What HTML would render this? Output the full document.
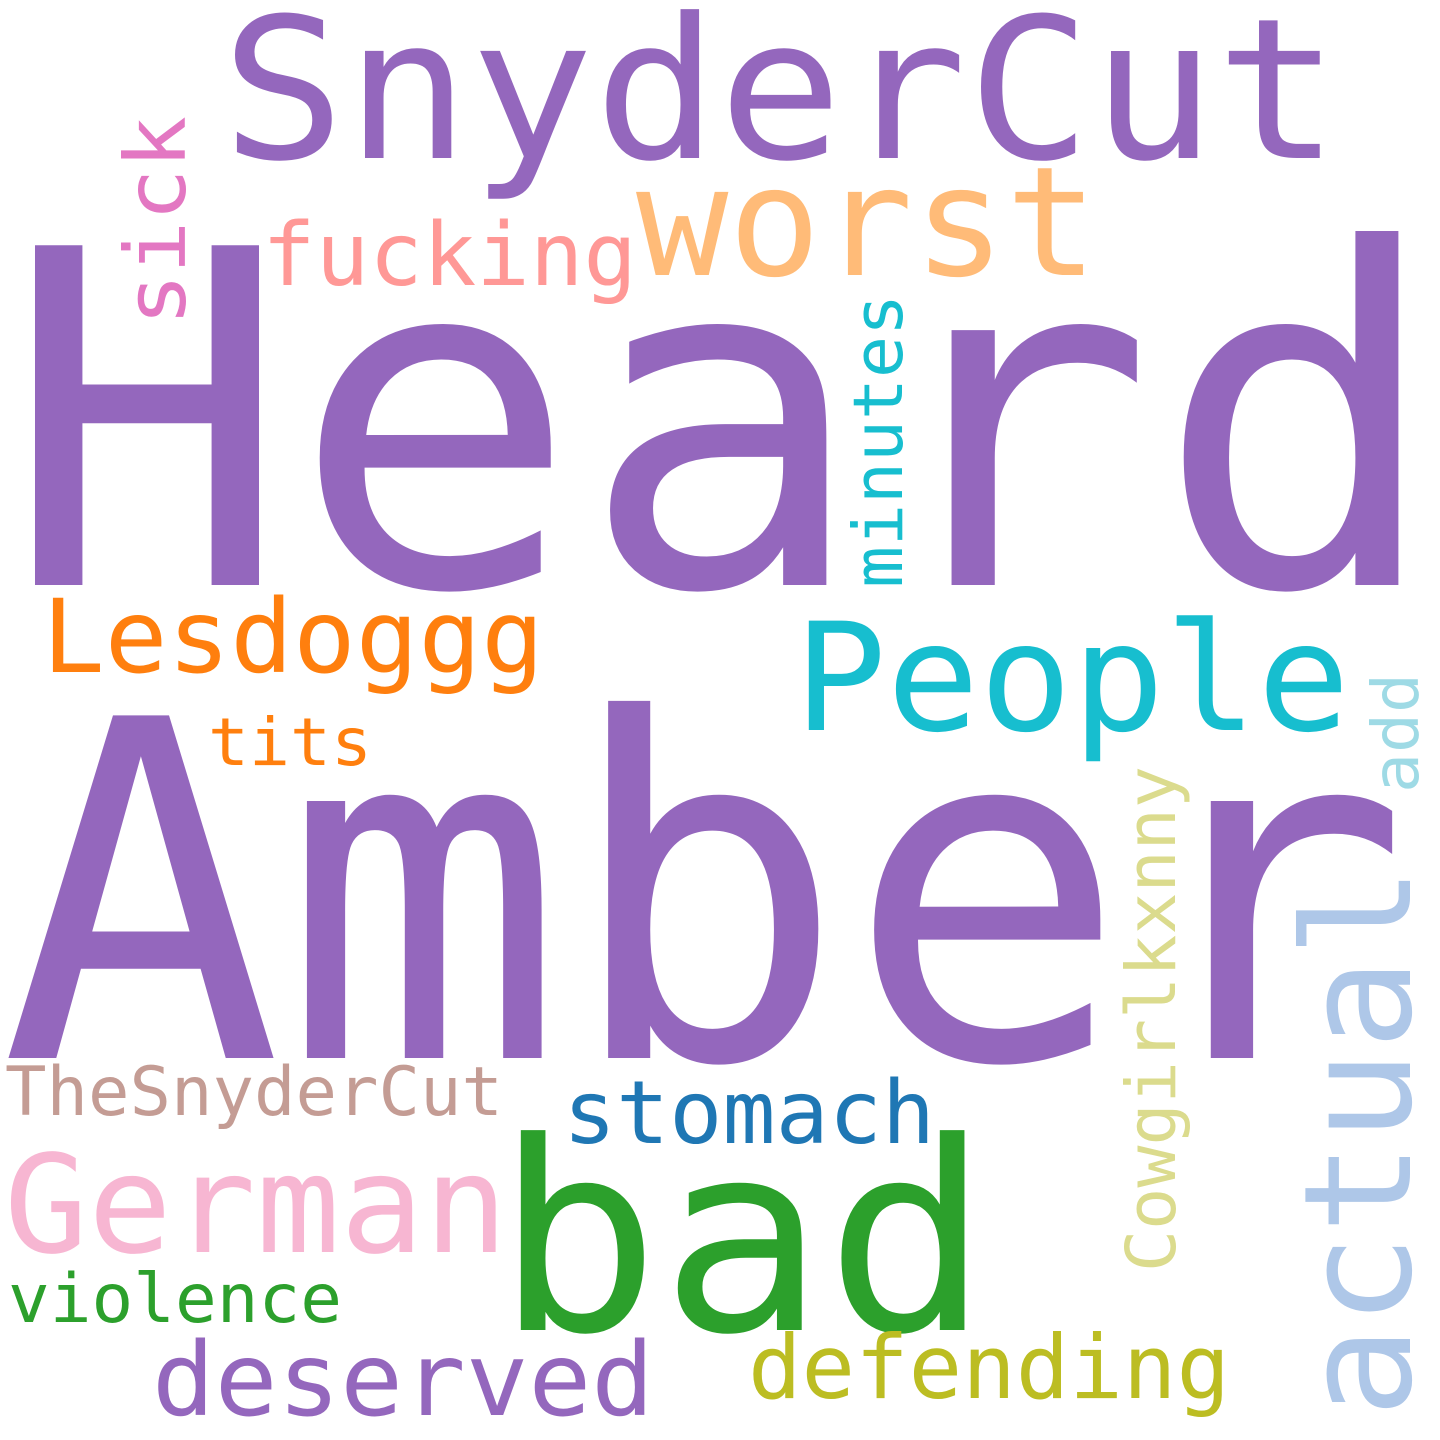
<!DOCTYPE html>
<html><head><meta charset="utf-8"><style>
html,body{margin:0;padding:0;background:#fff}
svg{display:block}
text{font-family:"DejaVu Sans Mono","Liberation Mono",monospace}
</style></head><body>
<svg width="1440" height="1440" viewBox="0 0 1440 1440" xmlns="http://www.w3.org/2000/svg">
<rect width="1440" height="1440" fill="#fff"/>
<g id="words"></g>
</svg>
<script>
const words = ["Heard","Amber","SnyderCut","worst","fucking","sick","minutes","Lesdoggg","People","add","tits","actual","Cowgirlkxnny","TheSnyderCut","stomach","German","bad","violence","deserved","defending"];
const sizes = [466,470,196,152,87,84,69,102,150,64,66,149,69,68,87,136,263,68,102,88];
const colors = ["#9467bd","#9467bd","#9467bd","#ffbb78","#ff9896","#e377c2","#17becf","#ff7f0e","#17becf","#9edae5","#ff7f0e","#aec7e8","#dbdb8d","#c49c94","#1f77b4","#f7b6d2","#2ca02c","#2ca02c","#9467bd","#bcbd22"];
const vertical = [0,0,0,0,0,1,1,0,0,1,0,1,1,0,0,0,0,0,0,0];
const anchorX = [3,0,221,636,262,185,902,42,794,1418,208,1410,1175,5,563,4,495,8,152,748];
const anchorY = [585,1058,158,275,285,326,588,672,730,793,765,1418,1272,1115,1143,1252,1330,1322,1415,1398];
const lengths = [1440,1410,1119,462,375,210,294,502,556,120,164,552,506,498,372,504,495,334,502,482];
const g = document.getElementById('words');
const NS = "http://www.w3.org/2000/svg";
words.forEach((w,i)=>{
  const t = document.createElementNS(NS,'text');
  
  
  t.setAttribute('font-size', sizes[i]);
  t.setAttribute('fill', colors[i]);
  t.setAttribute('textLength', lengths[i]);
  t.setAttribute('lengthAdjust', 'spacingAndGlyphs');
  if (vertical[i]) {
    t.setAttribute('x', 0); t.setAttribute('y', 0);
    t.setAttribute('transform', 'translate(' + anchorX[i] + ',' + anchorY[i] + ') rotate(-90)');
  } else {
    t.setAttribute('x', anchorX[i]); t.setAttribute('y', anchorY[i]);
  }
  t.textContent = w;
  g.appendChild(t);
});
</script>
</body></html>
